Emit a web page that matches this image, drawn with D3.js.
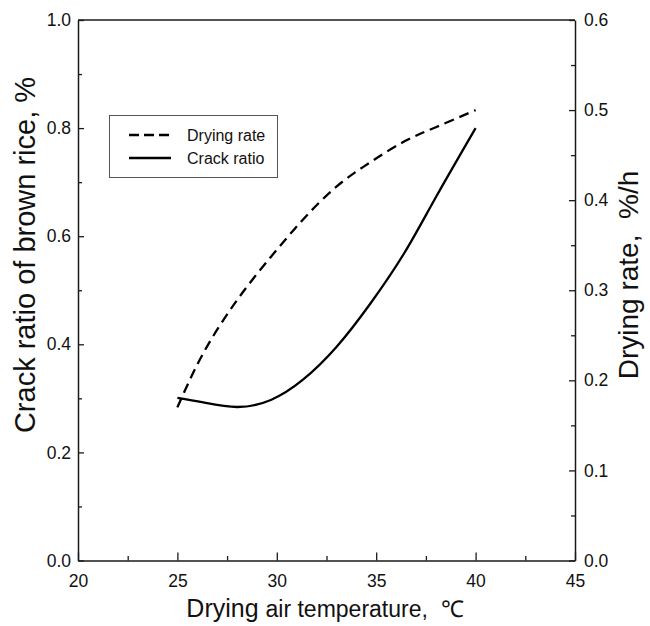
<!DOCTYPE html>
<html>
<head>
<meta charset="utf-8">
<script src="https://cdn.jsdelivr.net/npm/d3@7"></script>
<style>
  html, body { margin: 0; padding: 0; background: #fff; }
  svg { display: block; font-family: "Liberation Sans", Arial, sans-serif; }
</style>
</head>
<body>
<svg id="chart" width="650" height="626"></svg>
<script>
// Drying air temperature (°C) at which each curve is sampled
const temperature = [25, 26.3, 28, 29.7, 31.3, 33, 34.7, 36.4, 38, 40];
// Drying rate, %/h (right axis)
const dryingRate = [0.170, 0.230, 0.289, 0.337, 0.378, 0.415, 0.442, 0.465, 0.481, 0.500];
// Crack ratio of brown rice, % (left axis)
const crackRatio = [0.301, 0.2925, 0.284, 0.297, 0.334, 0.395, 0.475, 0.568, 0.672, 0.800];

const xTicks = [20, 25, 30, 35, 40, 45];
const yLeftTicks = [0.0, 0.2, 0.4, 0.6, 0.8, 1.0];
const yRightTicks = [0.0, 0.1, 0.2, 0.3, 0.4, 0.5, 0.6];

const seriesNames = ["Drying rate", "Crack ratio"];

const svg = d3.select("#chart");
const m = { left: 78, right: 575, top: 20, bottom: 560.5 };

const x = d3.scaleLinear().domain([20, 45]).range([m.left, m.right]);
const yL = d3.scaleLinear().domain([0, 1]).range([m.bottom, m.top]);
const yR = d3.scaleLinear().domain([0, 0.6]).range([m.bottom, m.top]);

const ink = "#1a1a1a";

// frame: top edge
svg.append("line").attr("x1", m.left).attr("x2", m.right).attr("y1", m.top).attr("y2", m.top)
  .attr("stroke", ink).attr("stroke-width", 1.5);

function styleAxis(g) {
  g.select(".domain").attr("stroke", ink).attr("stroke-width", 1.5);
  g.selectAll(".tick line").attr("stroke", ink).attr("stroke-width", 1.3);
  g.selectAll("text").attr("fill", "#111").style("font-size", "17.5px")
    .style("font-family", "'Liberation Sans', Arial, sans-serif");
}
function minorTicks(g) {
  g.select(".domain").remove();
  g.selectAll(".tick line").attr("stroke", ink).attr("stroke-width", 1.3);
}

// bottom axis: major ticks every 5, minor in between, all pointing inward
const minorX = d3.range(22.5, 45, 5);
svg.append("g").attr("transform", `translate(0,${m.bottom})`)
  .call(d3.axisBottom(x).tickValues(minorX).tickSize(-4.5).tickFormat(""))
  .call(minorTicks);
svg.append("g").attr("transform", `translate(0,${m.bottom})`)
  .call(d3.axisBottom(x).tickValues(xTicks).tickSizeInner(-8).tickSizeOuter(0).tickPadding(14).tickFormat(d3.format("d")))
  .call(styleAxis);

// left axis
const minorYL = d3.range(0.1, 1.0, 0.2);
svg.append("g").attr("transform", `translate(${m.left},0)`)
  .call(d3.axisLeft(yL).tickValues(minorYL).tickSize(-4).tickFormat(""))
  .call(minorTicks);
svg.append("g").attr("transform", `translate(${m.left},0)`)
  .call(d3.axisLeft(yL).tickValues(yLeftTicks).tickSizeInner(-6).tickSizeOuter(0).tickPadding(7).tickFormat(d3.format(".1f")))
  .call(styleAxis);

// right axis
const minorYR = d3.range(0.05, 0.6, 0.1);
svg.append("g").attr("transform", `translate(${m.right},0)`)
  .call(d3.axisRight(yR).tickValues(minorYR).tickSize(-4).tickFormat(""))
  .call(minorTicks);
svg.append("g").attr("transform", `translate(${m.right},0)`)
  .call(d3.axisRight(yR).tickValues(yRightTicks).tickSizeInner(-6).tickSizeOuter(0).tickPadding(9).tickFormat(d3.format(".1f")))
  .call(styleAxis);

// curves
const lineRate = d3.line().x((d, i) => x(temperature[i])).y(d => yR(d)).curve(d3.curveNatural);
const lineCrack = d3.line().x((d, i) => x(temperature[i])).y(d => yL(d)).curve(d3.curveNatural);

svg.append("path").datum(dryingRate).attr("d", lineRate)
  .attr("fill", "none").attr("stroke", "#000").attr("stroke-width", 2.3)
  .attr("stroke-dasharray", "10,6");
svg.append("path").datum(crackRatio).attr("d", lineCrack)
  .attr("fill", "none").attr("stroke", "#000").attr("stroke-width", 2.3);

// legend
const lg = svg.append("g");
lg.append("rect").attr("x", 109.5).attr("y", 115.5).attr("width", 168).attr("height", 62)
  .attr("fill", "#fff").attr("stroke", "#555").attr("stroke-width", 1);
const legendRows = [
  { name: seriesNames[0], dash: "10,5", y: 135 },
  { name: seriesNames[1], dash: null, y: 158 }
];
legendRows.forEach(r => {
  lg.append("line").attr("x1", 129).attr("x2", 171).attr("y1", r.y).attr("y2", r.y)
    .attr("stroke", "#000").attr("stroke-width", 2.3)
    .attr("stroke-dasharray", r.dash);
  lg.append("text").attr("x", 187).attr("y", r.y + 6).text(r.name)
    .style("font-size", "16px").attr("fill", "#111");
});

// axis titles
svg.append("text")
  .attr("transform", `translate(35,255) rotate(-90)`)
  .attr("text-anchor", "middle")
  .style("font-size", "29px").attr("fill", "#111")
  .text("Crack ratio of brown rice, %");

svg.append("text")
  .attr("transform", `translate(638,275) rotate(-90)`)
  .attr("text-anchor", "middle")
  .style("font-size", "28px").attr("fill", "#111")
  .attr("xml:space", "preserve")
  .text("Drying rate,  %/h");

const xt = svg.append("text")
  .attr("x", 325).attr("y", 617)
  .attr("text-anchor", "middle")
  .attr("xml:space", "preserve")
  .attr("fill", "#111");
xt.append("tspan").style("font-size", "25px").text("Drying ");
xt.append("tspan").style("font-size", "23px").text("air temperature,  ℃");
</script>
</body>
</html>
